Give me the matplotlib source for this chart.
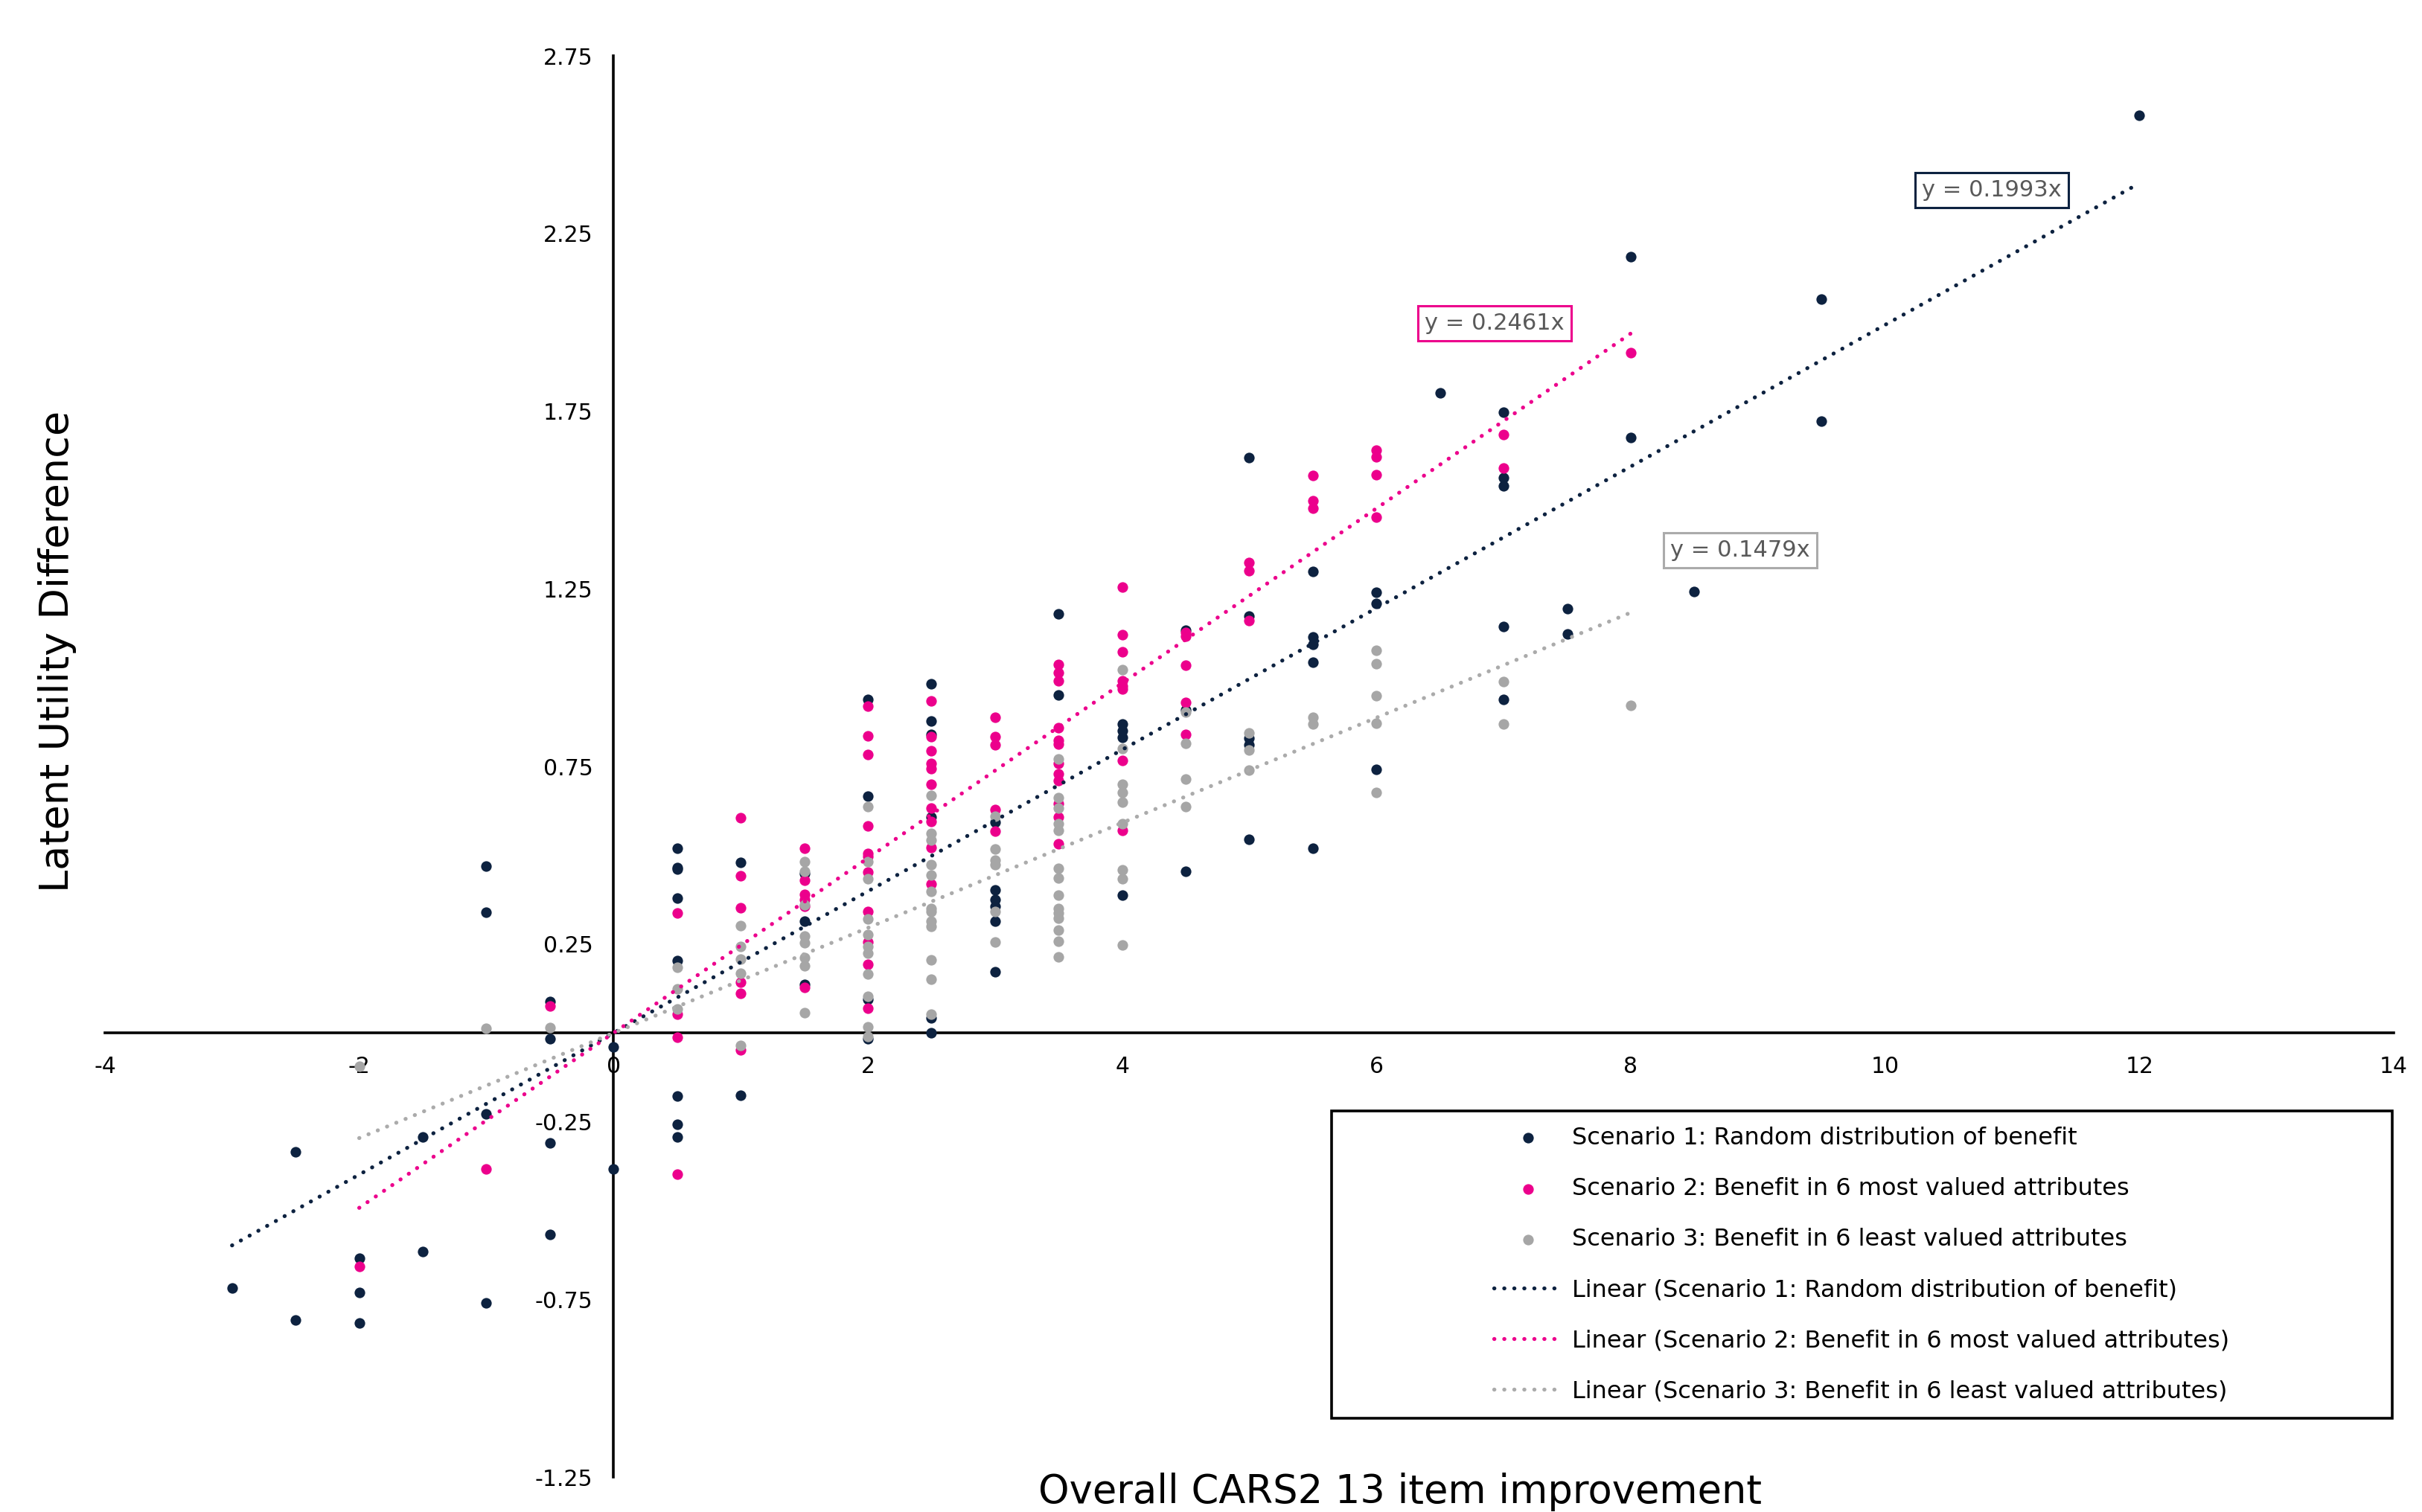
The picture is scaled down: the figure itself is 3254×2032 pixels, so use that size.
import numpy as np
import matplotlib
matplotlib.use("Agg")
import matplotlib.pyplot as plt
from matplotlib.patches import Rectangle

plt.rcParams['font.family'] = ['DejaVu Sans']
plt.rcParams['axes.unicode_minus'] = False

# ---------------- data ----------------
s1_x = [-3, -2.5, -2.5, -2, -2, -2, -1.5, -1.5, -1, -1, -1, -1,
        -0.5, -0.5, -0.5, -0.5, 0, 0,
        0.5, 0.5, 0.5, 0.5, 0.5, 0.5, 0.5, 0.5, 1, 1, 1.5, 1.5, 1.5,
        2, 2, 2, 2, 2.5, 2.5, 2.5, 2.5, 2.5, 2.5,
        3, 3, 3, 3, 3, 3, 3.5, 3.5, 4, 4, 4, 4, 4.5, 4.5, 4.5,
        5, 5, 5, 5, 5, 5.5, 5.5, 5.5, 5.5, 5.5, 6, 6, 6, 6.5,
        7, 7, 7, 7, 7, 7.5, 7.5, 8, 8, 8.5, 9.5, 9.5, 12]
s1_y = [-0.718, -0.334, -0.809, -0.635, -0.73, -0.817, -0.292, -0.616, 0.47, 0.339, -0.228, -0.76,
        0.089, -0.017, -0.31, -0.567, -0.04, -0.383,
        0.519, 0.465, 0.461, 0.379, 0.204, -0.178, -0.258, -0.292, 0.481, -0.175, 0.449, 0.314, 0.137,
        0.938, 0.666, 0.094, -0.016, 0.982, 0.877, 0.84, 0.608, 0.043, 0.0,
        0.594, 0.403, 0.375, 0.356, 0.314, 0.172, 1.179, 0.952, 0.869, 0.85, 0.831, 0.387, 1.134, 0.91, 0.455,
        1.62, 1.174, 0.829, 0.81, 0.544, 1.30, 1.114, 1.094, 1.043, 0.519, 1.24, 1.209, 0.742, 1.802,
        1.748, 1.563, 1.540, 1.145, 0.938, 1.195, 1.123, 2.185, 1.676, 1.242, 2.066, 1.723, 2.583]

s2_x = [-2, -1, -0.5, 0.5, 0.5, 0.5, 0.5, 1, 1, 1, 1, 1, 1,
        1.5, 1.5, 1.5, 1.5, 1.5, 1.5,
        2, 2, 2, 2, 2, 2, 2, 2, 2, 2, 2,
        2.5, 2.5, 2.5, 2.5, 2.5, 2.5, 2.5, 2.5, 2.5, 2.5,
        3, 3, 3, 3, 3,
        3.5, 3.5, 3.5, 3.5, 3.5, 3.5, 3.5, 3.5, 3.5, 3.5, 3.5, 3.5,
        4, 4, 4, 4, 4, 4, 4, 4, 4.5, 4.5, 4.5, 4.5, 4.5,
        5, 5, 5, 5.5, 5.5, 5.5, 6, 6, 6, 6, 7, 7, 8]
s2_y = [-0.658, -0.383, 0.076, 0.338, 0.052, -0.013, -0.397, 0.605, 0.443, 0.353, 0.142, 0.112, -0.048,
        0.52, 0.429, 0.389, 0.375, 0.356, 0.128,
        0.919, 0.836, 0.783, 0.583, 0.505, 0.496, 0.452, 0.342, 0.257, 0.194, 0.069,
        0.934, 0.835, 0.794, 0.758, 0.744, 0.699, 0.632, 0.595, 0.522, 0.419,
        0.889, 0.835, 0.81, 0.629, 0.569,
        1.038, 1.015, 0.992, 0.859, 0.823, 0.814, 0.758, 0.73, 0.711, 0.645, 0.608, 0.532,
        1.255, 1.122, 1.073, 0.991, 0.977, 0.968, 0.767, 0.571, 1.128, 1.117, 1.035, 0.93, 0.84,
        1.324, 1.302, 1.16, 1.569, 1.497, 1.478, 1.641, 1.622, 1.572, 1.451, 1.684, 1.59, 1.914]

s3_x = [-2, -1, -0.5, 0.5, 0.5, 0.5, 1, 1, 1, 1, 1,
        1.5, 1.5, 1.5, 1.5, 1.5, 1.5, 1.5, 1.5,
        2, 2, 2, 2, 2, 2, 2, 2, 2, 2, 2,
        2.5, 2.5, 2.5, 2.5, 2.5, 2.5, 2.5, 2.5, 2.5, 2.5, 2.5, 2.5, 2.5,
        3, 3, 3, 3, 3, 3,
        3.5, 3.5, 3.5, 3.5, 3.5, 3.5, 3.5, 3.5, 3.5, 3.5, 3.5, 3.5, 3.5, 3.5,
        4, 4, 4, 4, 4, 4, 4, 4, 4, 4.5, 4.5, 4.5, 4.5,
        5, 5, 5, 5.5, 5.5, 6, 6, 6, 6, 6, 7, 7, 8]
s3_y = [-0.093, 0.0125, 0.015, 0.184, 0.124, 0.068, 0.302, 0.244, 0.208, 0.168, -0.036,
        0.482, 0.454, 0.361, 0.272, 0.253, 0.211, 0.188, 0.057,
        0.638, 0.482, 0.433, 0.32, 0.276, 0.244, 0.225, 0.166, 0.104, 0.017, -0.009,
        0.669, 0.562, 0.543, 0.473, 0.445, 0.398, 0.351, 0.342, 0.314, 0.3, 0.206, 0.152, 0.052,
        0.61, 0.517, 0.487, 0.473, 0.342, 0.255,
        0.772, 0.662, 0.634, 0.59, 0.571, 0.464, 0.436, 0.387, 0.351, 0.337, 0.323, 0.29, 0.258, 0.214,
        1.022, 0.8, 0.701, 0.678, 0.65, 0.59, 0.459, 0.435, 0.248, 0.903, 0.815, 0.715, 0.637,
        0.845, 0.797, 0.74, 0.888, 0.87, 1.077, 1.04, 0.949, 0.872, 0.676, 0.99, 0.869, 0.922]

series_names = ["Scenario 1: Random distribution of benefit",
                "Scenario 2: Benefit in 6 most valued attributes",
                "Scenario 3: Benefit in 6 least valued attributes"]
slopes = [0.1993, 0.2461, 0.1479]
eq_labels = ["y = 0.1993x", "y = 0.2461x", "y = 0.1479x"]
eq_pos = [(10.84, 2.372), (6.93, 1.998), (8.86, 1.359)]

x_ticks = list(range(-4, 15, 2))
y_ticks = [-1.25, -0.75, -0.25, 0.25, 0.75, 1.25, 1.75, 2.25, 2.75]

colors = ["#0D2240", "#EC008C", "#A6A6A6"]
line_colors = ["#0D2240", "#EC008C", "#ABABAB"]

# ---------------- figure ----------------
fig = plt.figure(figsize=(32.55, 20.32), dpi=100)
ax = fig.add_axes([0.0433, 0.0231, 0.9447, 0.9399])
ax.set_xlim(-4, 14)
ax.set_ylim(-1.25, 2.75)

xs = [s1_x, s2_x, s3_x]
ys = [s1_y, s2_y, s3_y]
scat_handles = []
for i in range(3):
    h = ax.scatter(xs[i], ys[i], s=105, color=colors[i], linewidths=0, zorder=3 + i,
                   label=series_names[i])
    scat_handles.append(h)

line_handles = []
for i in range(3):
    xx = np.array([min(xs[i]), max(xs[i])])
    ln, = ax.plot(xx, slopes[i] * xx, color=line_colors[i], lw=3.8,
                  linestyle=(0, (0.05, 2.5)), dash_capstyle='round', zorder=7,
                  label="Linear (" + series_names[i] + ")")
    line_handles.append(ln)

for i in range(3):
    ax.text(eq_pos[i][0], eq_pos[i][1], eq_labels[i], fontsize=22, color="#595959",
            ha='center', va='center', zorder=9,
            bbox=dict(boxstyle='square,pad=0.3', facecolor='white',
                      edgecolor=line_colors[i], linewidth=2.2))

# axes crossing at origin
for side in ['top', 'right']:
    ax.spines[side].set_visible(False)
ax.spines['left'].set_position(('data', 0))
ax.spines['bottom'].set_position(('data', 0))
for side in ['left', 'bottom']:
    ax.spines[side].set_linewidth(2.6)
    ax.spines[side].set_color('black')
    ax.spines[side].set_zorder(2)

ax.set_xticks(x_ticks)
ax.set_xticklabels([str(t) for t in x_ticks])
ax.set_yticks(y_ticks)
ax.set_yticklabels(["%.2f" % t for t in y_ticks])
ax.tick_params(axis='both', length=0, labelsize=21.5, colors='black')
ax.tick_params(axis='y', pad=20)
ax.tick_params(axis='x', pad=22)

# axis titles
fig.text(0.0237, 0.569, "Latent Utility Difference", rotation=90, fontsize=39,
         ha='center', va='center')
fig.text(0.578, 0.0262, "Overall CARS2 13 item improvement", fontsize=38,
         ha='center', va='top')

# legend frame + legend
fig.patches.append(Rectangle((0.5496, 0.062), 0.4378, 0.2033, transform=fig.transFigure,
                             facecolor='white', edgecolor='black', linewidth=2.6, zorder=10))
leg = fig.legend(scat_handles + line_handles,
                 [h.get_label() for h in scat_handles + line_handles],
                 loc='upper left', bbox_to_anchor=(0.6165, 0.2550),
                 frameon=False, fontsize=23, handlelength=2.92, handletextpad=0.37,
                 labelspacing=1.16, borderpad=0, borderaxespad=0, markerscale=1.0)
leg.set_zorder(11)

fig.savefig("out.png", dpi=100)
